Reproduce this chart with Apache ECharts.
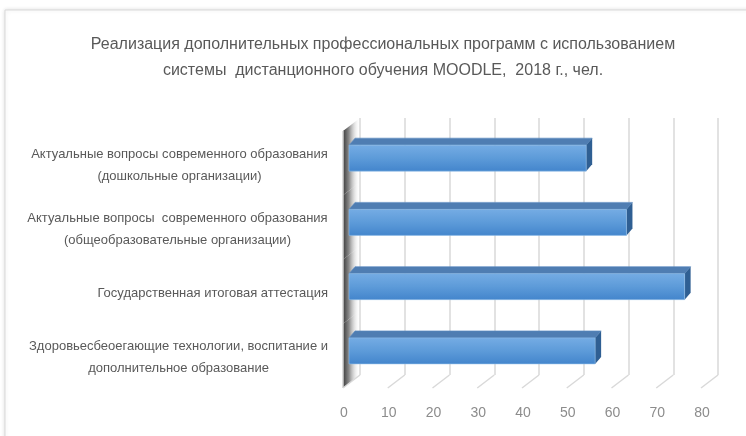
<!DOCTYPE html>
<html>
<head>
<meta charset="utf-8">
<script src="https://cdn.jsdelivr.net/npm/echarts@6/dist/echarts.min.js"></script>
<style>html,body{margin:0;padding:0;background:#fff}#c{width:746px;height:436px}</style>
</head>
<body>
<div id="c"></div>
<script>
const titleText = 'Реализация дополнительных профессиональных программ с использованием\nсистемы  дистанционного обучения MOODLE,  2018 г., чел.';
const categories = [
  'Актуальные вопросы современного образования\n(дошкольные организации)',
  'Актуальные вопросы  современного образования\n(общеобразовательные организации)',
  'Государственная итоговая аттестация',
  'Здоровьесбеоегающие технологии, воспитание и\nдополнительное образование'
];
const values = [53, 62, 75, 55];
const xTicks = [0, 10, 20, 30, 40, 50, 60, 70, 80];

const FONT = "'Liberation Sans', Arial, sans-serif";
const LABEL_SIZE = 13;

// measure widest line of each label for centred multi-line blocks
const cv = document.createElement('canvas').getContext('2d');
cv.font = LABEL_SIZE + 'px ' + FONT;
const blockW = categories.map(c => Math.ceil(Math.max(...c.split('\n').map(l => cv.measureText(l).width))));
const rich = {};
categories.forEach((c, i) => { rich['w' + i] = { width: blockW[i], align: 'center', fontSize: LABEL_SIZE, fontFamily: FONT, color: '#595959', lineHeight: 22 }; });

// 3D geometry (pixels)
const FX = -11, FY = 8;      // front face offset from back plane
const BH = 26;               // bar thickness
const DX = 6, DY = -7;       // bar depth
const WX = -17, WY = 13;     // wall / floor depth

const chart = echarts.init(document.getElementById('c'), null, { renderer: 'canvas' });

function barItem(params, api) {
  const ci = api.value(1);
  const p0 = api.coord([0, ci]);
  const p1 = api.coord([api.value(0), ci]);
  const x = p0[0] + FX, y = p0[1] + FY - BH / 2, w = p1[0] - p0[0];
  return {
    type: 'group',
    children: [
      { type: 'polygon', shape: { points: [[x, y], [x + w, y], [x + w + DX, y + DY], [x + DX, y + DY]] },
        style: { fill: '#4f7db2', stroke: '#5b8bc2', lineWidth: 0.6 } },
      { type: 'polygon', shape: { points: [[x + w, y], [x + w + DX, y + DY], [x + w + DX, y + DY + BH], [x + w, y + BH]] },
        style: { fill: '#2f5f93' } },
      { type: 'rect', shape: { x: x, y: y, width: w, height: BH },
        style: { fill: new echarts.graphic.LinearGradient(0, 0, 0, 1, [
          { offset: 0, color: '#75ace4' }, { offset: 0.5, color: '#5d9bd9' }, { offset: 1, color: '#4385cc' }]),
          stroke: '#8fbce8', lineWidth: 0.6 } }
    ]
  };
}

function wallItem(params, api) {
  const ci = api.value(1);
  const c = api.coord([0, ci]);
  const h = api.size([0, 1])[1];
  const x = c[0], top = c[1] - h / 2, bot = c[1] + h / 2;
  return {
    type: 'polygon',
    shape: { points: [[x, top], [x, bot], [x + WX, bot + WY], [x + WX, top + WY]] },
    style: { fill: new echarts.graphic.LinearGradient(0, 0, 1, 0, [
      { offset: 0, color: '#3c3c3c' }, { offset: 0.35, color: '#8a8a8a' }, { offset: 1, color: 'rgba(255,255,255,0)' }]) }
  };
}

function floorItem(params, api) {
  const cs = params.coordSys;
  const x = api.coord([api.value(0), 0])[0];
  const bottom = cs.y + cs.height;
  return { type: 'line', shape: { x1: x, y1: bottom, x2: x + WX, y2: bottom + WY }, style: { stroke: '#d9d9d9', lineWidth: 1.5 } };
}

function wallEdge(params, api) {
  const cs = params.coordSys;
  const x = api.coord([0, 0])[0] + WX;
  return { type: 'line', shape: { x1: x, y1: cs.y + WY, x2: x, y2: cs.y + cs.height + WY }, style: { stroke: '#d0d0d0', lineWidth: 1.5 } };
}

const option = {
  backgroundColor: '#ffffff',
  animation: false,
  graphic: [
    { type: 'rect', shape: { x: 5, y: 10, width: 760, height: 460 },
      style: { fill: '#fff', stroke: '#d9d9d9', lineWidth: 1, shadowBlur: 4, shadowColor: 'rgba(0,0,0,0.12)' }, z: -10 }
  ],
  title: {
    text: titleText,
    left: 378, top: 27, textAlign: 'center',
    textStyle: { fontFamily: FONT, fontSize: 16, fontWeight: 'normal', color: '#595959', lineHeight: 26 }
  },
  grid: { left: 360, right: 28, top: 118, bottom: 61, outerBoundsMode: 'none', containLabel: false },
  xAxis: {
    type: 'value', min: 0, max: 80, interval: 10,
    axisLine: { show: false }, axisTick: { show: false },
    splitLine: { lineStyle: { color: '#d9d9d9', width: 1.5 } },
    axisLabel: { color: '#8c8c8c', fontSize: 14, fontFamily: FONT, margin: 31, padding: [0, 32, 0, 0] }
  },
  yAxis: {
    type: 'category', data: categories, inverse: true,
    axisLine: { show: false }, axisTick: { show: false },
    axisLabel: {
      interval: 0, hideOverlap: false,
      margin: 32, padding: [30, 0, 0, 0], align: 'right',
      fontSize: LABEL_SIZE, fontFamily: FONT, color: '#595959', lineHeight: 22,
      formatter: (v, i) => v.indexOf('\n') < 0 ? v : v.split('\n').map(l => '{w' + i + '|' + l + '}').join('\n'),
      rich: rich
    }
  },
  series: [
    { type: 'custom', renderItem: wallItem, data: categories.map((c, i) => [0, i]), z: 1, silent: true },
    { type: 'custom', renderItem: wallEdge, data: [[0, 0]], z: 1, silent: true },
    { type: 'custom', renderItem: floorItem, data: xTicks.map(t => [t, 0]), z: 1, silent: true },
    { type: 'custom', renderItem: barItem, data: values.map((v, i) => [v, i]), z: 3 }
  ]
};
chart.setOption(option);
</script>
</body>
</html>
